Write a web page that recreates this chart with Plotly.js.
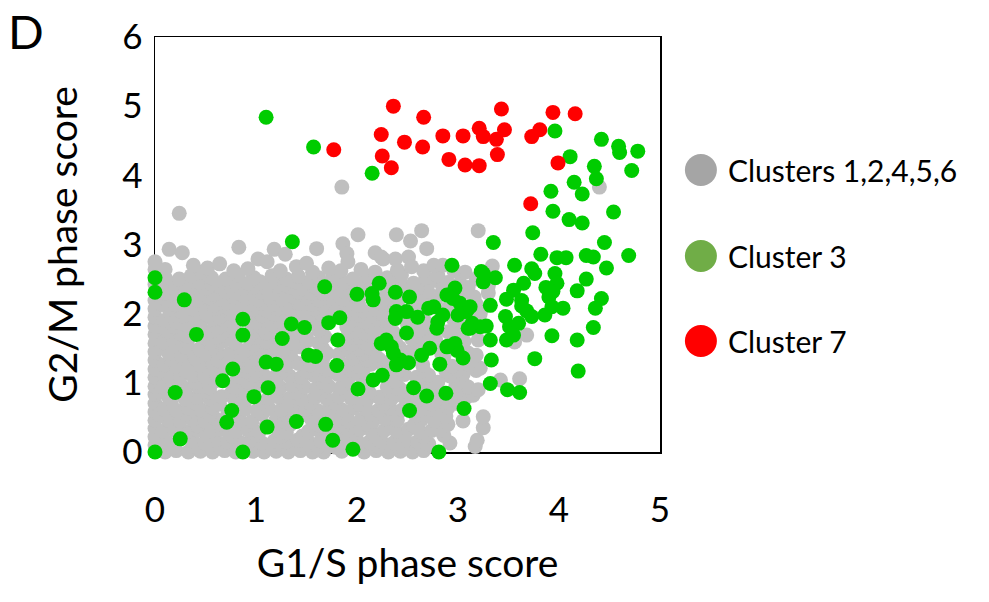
<!DOCTYPE html>
<html>
<head>
<meta charset="utf-8">
<script src="https://cdn.plot.ly/plotly-3.0.1.min.js"></script>
<style>html,body{margin:0;padding:0;background:#fff;}#chart{width:989px;height:602px;}</style>
</head>
<body>
<div id="chart"></div>
<script>
// ---- Data ----
var seriesNames = ["Clusters 1,2,4,5,6", "Cluster 3", "Cluster 7"];
var xTickVals = [0, 1, 2, 3, 4, 5];
var yTickVals = [0, 1, 2, 3, 4, 5, 6];

// Clusters 1,2,4,5,6 (G1/S score, G2/M score)
var grayPoints = [
 [0,0.1],[0,0.22],[0,0.34],[0,0.46],[0,0.58],[0,0.7],[0,0.83],[0,0.95],[0,1.08],[0,1.2],[0,1.33],[0,1.45],[0,1.57],[0,1.7],[0,1.82],[0,1.95],[0,2.07],[0,2.19],[0,2.42],[0,2.64],[0,2.75],
 [0.1,0],[0.21,0.02],[0.33,0],[0.45,0.01],[0.57,0],[0.69,0.02],[0.8,0],[0.97,0.01],[1.08,0],[1.2,0.01],[1.32,0],[1.44,0.02],[1.56,0],[1.67,0],[1.85,0.01],[2.07,0],[2.19,0.02],[2.31,0],[2.43,0.01],[2.55,0],[2.66,0.02],
 [0.18,0.07],[0.41,0.08],[0.65,0.06],[0.89,0.08],[1.14,0.07],[1.37,0.06],[1.61,0.08],[1.79,0.07],[1.97,0.06],[2.21,0.08],[2.45,0.07],[2.68,0.06],
 [0.12,0.14],[0.37,0.16],[0.49,0.13],[0.6,0.17],[0.72,0.15],[0.84,0.14],[0.95,0.17],[1.06,0.13],[1.18,0.16],[1.29,0.15],[1.41,0.17],[1.52,0.14],[1.64,0.16],[1.88,0.15],[2.0,0.17],[2.12,0.14],[2.24,0.16],[2.36,0.13],[2.48,0.17],[2.6,0.15],[2.71,0.12],[2.92,0.13],[3.17,0.08],[3.19,0.17],
 [0.06,0.23],[0.28,0.24],[0.52,0.22],[0.76,0.23],[1.0,0.24],[1.24,0.22],[1.46,0.23],[1.7,0.24],[1.94,0.22],[2.18,0.23],[2.42,0.24],[2.66,0.22],[2.86,0.24],
 [0.08,0.3],[0.19,0.32],[0.31,0.29],[0.43,0.31],[0.55,0.3],[0.66,0.33],[0.8,0.3],[0.92,0.32],[1.03,0.29],[1.22,0.31],[1.3,0.28],[1.52,0.3],[1.6,0.33],[1.8,0.29],[1.91,0.31],[2.03,0.33],[2.15,0.29],[2.27,0.31],[2.39,0.3],[2.51,0.33],[2.63,0.29],[2.74,0.31],[2.82,0.32],[3.25,0.35],
 [0.18,0.39],[0.42,0.38],[0.66,0.4],[0.9,0.39],[1.1,0.38],[1.34,0.4],[1.62,0.39],[1.86,0.38],[2.1,0.4],[2.34,0.39],[2.56,0.38],[2.9,0.4],
 [0.13,0.46],[0.25,0.44],[0.37,0.47],[0.49,0.45],[0.6,0.48],[0.84,0.46],[0.96,0.44],[1.2,0.47],[1.28,0.45],[1.55,0.47],[1.8,0.46],[1.92,0.44],[2.04,0.47],[2.16,0.45],[2.28,0.48],[2.4,0.46],[2.64,0.47],[2.77,0.45],[3.05,0.45],[3.25,0.51],
 [0.04,0.54],[0.3,0.55],[0.54,0.53],[0.72,0.54],[0.78,0.5],[1.06,0.55],[1.3,0.53],[1.46,0.54],[1.68,0.55],[1.9,0.53],[2.14,0.54],[2.36,0.55],[2.58,0.53],[2.7,0.55],[2.88,0.52],
 [0.09,0.62],[0.21,0.6],[0.33,0.63],[0.45,0.61],[0.57,0.64],[0.89,0.62],[1.01,0.6],[1.13,0.63],[1.25,0.61],[1.37,0.64],[1.49,0.62],[1.61,0.6],[1.73,0.63],[1.85,0.61],[1.97,0.64],[2.09,0.62],[2.21,0.6],[2.33,0.63],[2.45,0.61],[2.65,0.63],[2.78,0.6],[2.9,0.64],[3.0,0.7],
 [0.16,0.7],[0.4,0.71],[0.64,0.69],[0.82,0.7],[1.04,0.71],[1.3,0.69],[1.54,0.7],[1.78,0.71],[2.02,0.69],[2.26,0.7],[2.5,0.71],[2.74,0.69],[2.86,0.72],
 [0.14,0.78],[0.3,0.76],[0.42,0.79],[0.54,0.77],[0.66,0.8],[0.78,0.78],[0.9,0.76],[1.12,0.77],[1.22,0.8],[1.34,0.78],[1.46,0.76],[1.58,0.79],[1.7,0.77],[1.82,0.8],[1.94,0.78],[2.1,0.76],[2.22,0.79],[2.34,0.77],[2.46,0.8],[2.6,0.76],[2.78,0.75],[2.97,0.76],[3.09,0.8],[3.15,0.82],
 [0.05,0.86],[0.3,0.85],[0.54,0.87],[0.76,0.86],[0.9,0.85],[1.16,0.87],[1.4,0.86],[1.64,0.85],[1.88,0.87],[2.12,0.86],[2.36,0.85],[2.5,0.87],[2.98,0.86],
 [0.08,0.94],[0.3,0.92],[0.42,0.95],[0.54,0.93],[0.78,0.94],[0.9,0.92],[1.02,0.95],[1.24,0.93],[1.36,0.96],[1.48,0.94],[1.6,0.92],[1.72,0.95],[1.84,0.93],[2.1,0.95],[2.3,0.94],[2.42,0.92],[2.68,0.95],[2.76,0.93],[2.98,0.96],[3.1,0.94],[3.2,0.9],
 [0.18,1.02],[0.4,1.01],[0.6,1.03],[0.8,1.02],[0.92,1.01],[1.2,1.03],[1.44,1.02],[1.66,1.01],[1.9,1.03],[2.06,1.0],[2.38,1.02],[2.62,1.03],[2.8,1.01],[3.04,1.02],
 [0.13,1.1],[0.25,1.08],[0.37,1.11],[0.49,1.09],[0.61,1.12],[0.85,1.08],[0.97,1.11],[1.09,1.09],[1.21,1.12],[1.33,1.1],[1.45,1.08],[1.57,1.11],[1.69,1.09],[1.81,1.12],[1.93,1.1],[2.05,1.08],[2.35,1.1],[2.47,1.12],[2.59,1.08],[2.71,1.11],[2.92,1.1],[3.05,1.12],[3.18,1.18],[3.42,1.04],[3.61,1.06],
 [0.06,1.18],[0.3,1.17],[0.5,1.19],[0.66,1.16],[0.9,1.17],[1.02,1.19],[1.28,1.18],[1.5,1.17],[1.7,1.19],[1.94,1.18],[2.06,1.17],[2.44,1.19],[2.66,1.18],[2.88,1.17],[3.0,1.19],
 [0.09,1.26],[0.21,1.24],[0.33,1.27],[0.45,1.25],[0.57,1.28],[0.9,1.24],[1.01,1.27],[1.3,1.25],[1.42,1.28],[1.54,1.26],[1.66,1.24],[1.9,1.26],[2.02,1.24],[2.14,1.27],[2.26,1.25],[2.65,1.26],[2.94,1.24],[3.1,1.27],[3.22,1.21],
 [0.16,1.34],[0.4,1.35],[0.62,1.33],[0.72,1.32],[0.86,1.34],[0.98,1.35],[1.24,1.36],[1.36,1.33],[1.66,1.34],[1.96,1.35],[2.1,1.33],[2.22,1.34],[2.32,1.3],[2.6,1.35],[2.86,1.38],[3.15,1.32],
 [0.14,1.42],[0.26,1.4],[0.38,1.43],[0.5,1.41],[0.62,1.44],[0.74,1.42],[0.86,1.4],[0.98,1.43],[1.1,1.41],[1.22,1.44],[1.34,1.42],[1.7,1.43],[1.82,1.41],[1.94,1.44],[2.06,1.42],[2.18,1.4],[2.5,1.44],[2.84,1.41],[3.1,1.43],[3.18,1.4],
 [0.06,1.5],[0.3,1.51],[0.44,1.49],[0.56,1.5],[0.8,1.52],[0.92,1.49],[1.04,1.5],[1.16,1.51],[1.28,1.49],[1.44,1.52],[1.66,1.5],[1.9,1.51],[2.02,1.49],[2.14,1.5],[2.42,1.51],[2.56,1.49],[2.8,1.52],
 [0.08,1.58],[0.2,1.56],[0.32,1.59],[0.55,1.57],[0.67,1.6],[0.79,1.58],[0.98,1.56],[1.1,1.59],[1.38,1.57],[1.5,1.6],[1.62,1.58],[1.94,1.56],[2.06,1.59],[2.14,1.57],[2.38,1.6],[2.6,1.58],[2.78,1.62],[3.06,1.6],[3.2,1.62],[3.56,1.59],
 [0.18,1.66],[0.32,1.67],[0.5,1.65],[0.61,1.66],[0.73,1.68],[0.94,1.65],[1.04,1.66],[1.16,1.67],[1.34,1.65],[1.5,1.66],[1.68,1.67],[1.9,1.65],[2.02,1.66],[2.14,1.68],[2.3,1.66],[2.54,1.64],[2.7,1.67],[2.96,1.66],
 [0.13,1.74],[0.25,1.72],[0.55,1.75],[0.67,1.73],[0.79,1.76],[0.98,1.74],[1.1,1.72],[1.22,1.75],[1.4,1.73],[1.62,1.76],[1.95,1.74],[2.07,1.72],[2.19,1.75],[2.36,1.73],[2.62,1.76],[2.9,1.74],[3.04,1.72],[3.68,1.69],
 [0.06,1.82],[0.19,1.81],[0.32,1.83],[0.44,1.82],[0.62,1.8],[0.74,1.83],[0.96,1.82],[1.06,1.8],[1.18,1.83],[1.28,1.81],[1.5,1.83],[1.64,1.82],[1.9,1.8],[2.04,1.83],[2.14,1.81],[2.3,1.82],[2.5,1.84],[2.68,1.8],[3.0,1.84],
 [0.09,1.9],[0.21,1.88],[0.33,1.91],[0.45,1.89],[0.57,1.92],[0.69,1.9],[1.0,1.88],[1.12,1.91],[1.24,1.89],[1.6,1.92],[1.96,1.91],[2.08,1.88],[2.2,1.92],[2.3,1.9],[2.68,1.88],[2.96,1.91],[3.2,1.94],
 [0.16,1.98],[0.28,1.97],[0.4,1.99],[0.52,1.98],[0.64,1.96],[0.76,1.99],[0.92,1.98],[1.06,1.97],[1.18,1.99],[1.3,1.98],[1.42,1.96],[1.54,1.99],[1.66,1.98],[1.78,1.97],[1.9,1.99],[2.02,1.98],[2.14,1.96],[2.26,1.99],[2.56,2.02],[2.84,2.02],[3.1,1.95],
 [0.14,2.06],[0.26,2.04],[0.38,2.07],[0.5,2.05],[0.62,2.08],[0.74,2.06],[0.86,2.04],[0.98,2.07],[1.1,2.05],[1.22,2.08],[1.34,2.06],[1.46,2.04],[1.58,2.07],[1.7,2.05],[1.82,2.08],[1.94,2.06],[2.06,2.04],[2.18,2.07],[2.3,2.05],[2.6,2.1],[2.9,2.08],[3.22,2.0],
 [0.06,2.14],[0.2,2.13],[0.32,2.15],[0.46,2.14],[0.58,2.12],[0.7,2.15],[0.82,2.14],[0.94,2.13],[1.06,2.15],[1.18,2.14],[1.3,2.12],[1.42,2.15],[1.54,2.14],[1.66,2.13],[1.78,2.15],[1.9,2.14],[2.02,2.12],[2.24,2.15],[2.4,2.14],[2.66,2.16],[3.18,2.14],
 [0.1,2.22],[0.42,2.2],[0.54,2.23],[0.66,2.21],[0.78,2.24],[0.9,2.22],[1.02,2.2],[1.14,2.23],[1.26,2.21],[1.38,2.24],[1.5,2.22],[1.62,2.2],[1.74,2.23],[1.86,2.21],[2.28,2.22],[2.64,2.24],[2.78,2.2],[3.16,2.24],[3.3,2.3],
 [0.1,2.3],[0.22,2.29],[0.34,2.31],[0.46,2.3],[0.58,2.28],[0.7,2.31],[0.82,2.3],[0.94,2.29],[1.06,2.31],[1.18,2.3],[1.3,2.28],[1.42,2.31],[1.54,2.3],[1.66,2.29],[1.78,2.31],[1.9,2.3],[2.06,2.28],[2.3,2.31],[2.46,2.3],[2.7,2.32],[2.84,2.3],[3.04,2.3],
 [0.14,2.38],[0.26,2.36],[0.38,2.39],[0.5,2.37],[0.62,2.4],[0.74,2.38],[0.86,2.36],[0.98,2.39],[1.1,2.37],[1.22,2.4],[1.34,2.38],[1.46,2.36],[1.58,2.39],[1.8,2.37],[1.92,2.4],[2.08,2.38],[2.46,2.4],[2.6,2.37],[2.84,2.42],[3.1,2.38],[3.3,2.4],
 [0.06,2.45],[0.2,2.44],[0.32,2.46],[0.44,2.45],[0.56,2.43],[0.68,2.46],[0.8,2.45],[0.92,2.44],[1.04,2.46],[1.16,2.45],[1.28,2.43],[1.4,2.46],[1.52,2.45],[1.64,2.44],[1.76,2.46],[1.88,2.45],[2.0,2.43],[2.14,2.46],[2.34,2.45],[2.56,2.44],[2.72,2.46],[2.9,2.45],[3.02,2.44],
 [0.1,2.52],[0.24,2.5],[0.36,2.55],[0.56,2.52],[0.7,2.5],[0.82,2.56],[0.98,2.52],[1.16,2.55],[1.3,2.5],[1.42,2.54],[1.62,2.52],[1.76,2.55],[1.96,2.5],[2.1,2.54],[2.3,2.52],[2.44,2.56],[2.68,2.52],[2.8,2.55],[3.07,2.6],[3.18,2.5],
 [0.1,2.64],[0.46,2.6],[0.78,2.62],[0.92,2.65],[1.24,2.62],[1.56,2.6],[1.84,2.62],[2.04,2.64],[2.18,2.6],[2.4,2.63],[2.66,2.62],[2.76,2.7],[2.96,2.62],
 [0.14,2.93],[0.27,2.88],[0.38,2.7],[0.52,2.66],[0.64,2.72],[0.83,2.96],[1.02,2.79],[1.11,2.75],[1.18,2.93],[1.29,2.86],[1.4,2.68],[1.5,2.73],[1.6,2.94],[1.72,2.66],[1.86,3.01],[1.9,2.87],[1.91,2.75],[2.01,3.14],[2.18,2.88],[2.26,2.79],[2.24,2.82],[2.38,2.79],[2.39,3.14],[2.51,2.82],[2.53,3.05],[2.54,2.68],[2.64,3.2],[2.69,2.94],[2.85,2.7],[3.2,3.2],[3.34,2.69],[0.24,3.45],[1.85,3.83],[4.4,3.83]
];

// Cluster 3
var greenPoints = [
 [1.10,4.84],[1.57,4.41],[2.15,4.03],[1.36,3.04],
 [3.96,4.64],[4.42,4.52],[4.59,4.42],[4.60,4.33],[4.78,4.35],[4.72,4.07],[4.11,4.27],[4.35,4.13],[4.37,3.95],[4.15,3.90],[4.23,3.73],[3.92,3.77],[3.94,3.48],[4.10,3.36],[4.23,3.31],[4.54,3.47],[3.74,3.17],[3.35,3.03],[4.45,3.03],
 [4.69,2.84],[4.47,2.66],[4.27,2.84],[4.34,2.82],[4.07,2.81],[3.98,2.81],[3.82,2.86],[3.56,2.70],[2.94,2.70],
 [3.23,2.61],[3.37,2.52],[3.25,2.46],[3.73,2.65],[3.76,2.58],[3.96,2.58],[3.98,2.44],[4.27,2.50],[4.18,2.33],[4.42,2.22],[4.36,2.08],[4.34,1.80],[4.18,1.62],[4.19,1.17],[3.93,1.68],[3.76,1.35],[4.04,2.08],[3.86,1.98],[3.73,1.96],[3.65,2.44],[3.55,2.34],[3.48,2.21],[3.63,2.19],[3.63,2.11],[3.68,2.04],[3.87,2.38],[3.90,2.24],[3.93,2.10],[3.94,2.32],
 [3.47,1.96],[3.51,1.81],[3.60,1.86],[3.48,1.62],[3.55,1.69],[3.32,2.12],[3.32,1.62],[3.33,1.33],[3.32,0.99],[3.49,0.90],[3.61,0.86],[3.06,0.63],[2.81,0.00],[2.52,0.60],[2.56,0.93],[2.69,0.81],[2.88,0.85],[2.82,1.27],[3.05,1.36],[3.22,1.81],[3.12,1.79],[3.28,1.82],[2.90,1.53],[2.99,1.47],[2.72,1.50],[2.64,1.40],[2.51,1.29],[2.79,1.79],[2.80,1.88],[2.76,2.10],[2.71,2.08],[2.85,1.98],[2.97,2.37],[2.89,2.27],[3.02,2.15],[3.09,2.05],[3.14,1.86],[2.52,2.24],[2.49,2.03],[2.60,1.95],[2.49,1.72],[2.43,1.33],
 [2.95,2.22],[3.00,1.98],[3.07,2.03],[3.12,2.10],[3.10,1.79],[2.97,1.57],[2.89,1.52],[2.36,1.43],[2.39,1.26],[2.24,1.57],[2.34,1.52],[2.39,2.03],[2.38,1.93],[2.15,2.29],[2.16,2.20],[3.25,2.58],
 [0,2.52],[0,2.31],[0.29,2.20],[1.68,2.39],[2.00,2.28],[2.22,2.44],[2.38,2.31],[0.87,1.92],[0.87,1.69],[0.41,1.70],[1.35,1.85],[1.48,1.80],[1.26,1.64],[1.72,1.87],[1.83,1.94],[1.81,1.62],[1.52,1.40],[1.59,1.38],[1.80,1.25],[1.10,1.30],[1.20,1.27],[0.77,1.20],[0.67,1.03],[1.12,0.93],[0.98,0.80],[0.20,0.86],[2.01,0.91],[2.16,1.04],[2.25,1.11],[0.76,0.60],[0.71,0.43],[1.11,0.36],[1.40,0.44],[1.69,0.40],[1.76,0.17],[1.96,0.04],[0.25,0.19],[0,0],[0.87,0],[2.29,1.62]
];

// Cluster 7
var redPoints = [
 [2.36,5.00],[2.24,4.59],[2.47,4.48],[2.25,4.28],[2.34,4.11],[1.77,4.37],[2.66,4.84],[2.65,4.41],[2.85,4.57],[3.05,4.57],[3.21,4.68],[3.25,4.56],[3.38,4.52],[3.46,4.66],[3.43,4.96],[3.39,4.30],[2.91,4.23],[3.07,4.15],[3.21,4.14],[3.73,4.56],[3.81,4.66],[3.94,4.91],[4.16,4.89],[3.99,4.18],[3.72,3.59]
];

// ---- Styles ----
var FONT = "Lato, 'Open Sans', sans-serif";
var pointColors = ["#BFBFBF", "#00CC00", "#FF0000"];
var legendColors = ["#A5A5A5", "#70AD47", "#FF0000"];
var MS = 15;

function xs(p){ return p.map(function(d){ return d[0]; }); }
function ys(p){ return p.map(function(d){ return d[1]; }); }

var groups = [grayPoints, greenPoints, redPoints];
var traces = groups.map(function(g, i){
  return {
    type: "scatter", mode: "markers", name: seriesNames[i],
    x: xs(g), y: ys(g), cliponaxis: false, showlegend: false,
    marker: {size: MS, color: pointColors[i], line: {width: 0}},
    hoverinfo: "x+y+name"
  };
});

// custom legend (large markers)
var legendY = [0.6795, 0.4723, 0.2675];
var shapes = [], annotations = [];
seriesNames.forEach(function(n, i){
  shapes.push({type: "circle", xref: "paper", yref: "paper", xsizemode: "pixel", ysizemode: "pixel",
    xanchor: 1.081, yanchor: legendY[i], x0: -16, x1: 16, y0: -16, y1: 16,
    fillcolor: legendColors[i], line: {width: 0}});
  annotations.push({xref: "paper", yref: "paper", x: 1.13, y: legendY[i], xanchor: "left", yanchor: "middle",
    text: n, showarrow: false, font: {family: FONT, size: 30, color: "#000"}});
});
annotations.push({xref: "paper", yref: "paper", x: -0.295, y: 1.0145, xanchor: "left", yanchor: "middle",
  text: "D", showarrow: false, font: {family: FONT, size: 47, color: "#000"}});

var layout = {
  width: 989, height: 602,
  margin: {l: 155, r: 329, t: 37, b: 150, pad: 0},
  paper_bgcolor: "#fff", plot_bgcolor: "#fff",
  font: {family: FONT, color: "#000"},
  showlegend: false,
  xaxis: {
    range: [0, 5], tickvals: xTickVals, ticks: "", ticklen: 0, showgrid: false, zeroline: false,
    showline: true, mirror: true, linecolor: "#000", linewidth: 1.5, layer: "below traces",
    tickfont: {family: FONT, size: 35, color: "#000"}, ticklabelstandoff: 26,
    title: {text: "G1/S phase score", font: {family: FONT, size: 39, color: "#000"}, standoff: 22},
    fixedrange: true
  },
  yaxis: {
    range: [0, 6], tickvals: yTickVals, ticks: "", ticklen: 0, showgrid: false, zeroline: false,
    showline: true, mirror: true, linecolor: "#000", linewidth: 1.5, layer: "below traces",
    tickfont: {family: FONT, size: 35, color: "#000"}, ticklabelstandoff: 4,
    title: {text: "G2/M phase score", font: {family: FONT, size: 39, color: "#000"}, standoff: 32},
    fixedrange: true
  },
  shapes: shapes,
  annotations: annotations
};

Plotly.newPlot("chart", traces, layout, {displayModeBar: false, staticPlot: true});
</script>
</body>
</html>
